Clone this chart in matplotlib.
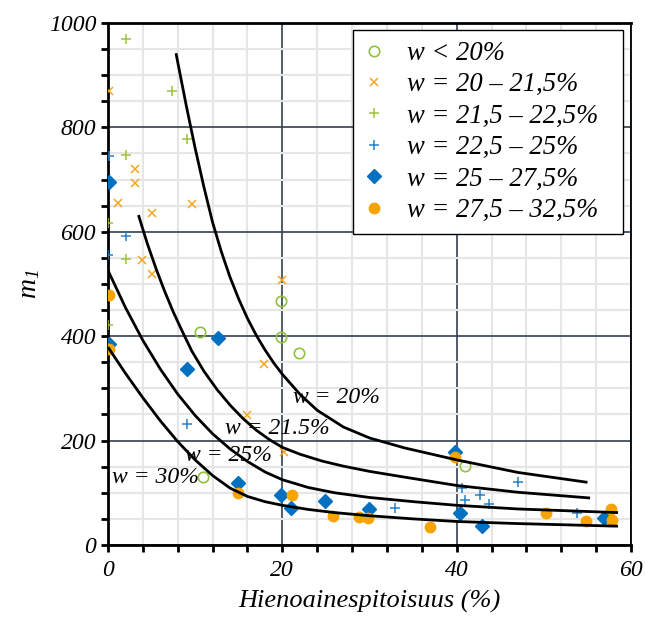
import numpy as np
import matplotlib
matplotlib.use("Agg")
import matplotlib.pyplot as plt
from matplotlib.ticker import MultipleLocator

plt.rcParams['font.family'] = ['Liberation Serif', 'DejaVu Serif']
plt.rcParams['font.style'] = 'italic'
plt.rcParams['mathtext.fontset'] = 'custom'
plt.rcParams['mathtext.it'] = 'Liberation Serif:italic'
plt.rcParams['mathtext.rm'] = 'Liberation Serif:italic'

# measured points, grouped by water content class
w_lt20_x = [10.5, 19.9, 19.9, 21.9, 10.9, 40.9]
w_lt20_y = [408, 467, 398, 367, 131, 151]

w_20_215_x = [0.1, 1.2, 3.1, 3.1, 5.1, 3.95, 5.0, 9.65, 20.0, 17.9, 16.0, 20.2]
w_20_215_y = [869, 656, 720, 694, 635, 546, 519, 654, 508, 347, 249, 178]

w_215_225_x = [2.1, 7.4, 9.1, 2.1, 0.05, 2.1, 0.05]
w_215_225_y = [969, 869, 778, 747, 617, 547, 421]

w_225_25_x = [0.1, 2.1, 0.05, 9.1, 32.9, 40.6, 41.0, 42.7, 43.7, 47.0, 53.8]
w_225_25_y = [745, 591, 556, 231, 70, 110, 86, 96, 78, 120, 61]

w_25_275_x = [0.1, 0.1, 12.6, 9.05, 14.95, 19.8, 20.95, 24.95, 29.95, 39.85, 40.4, 42.9, 56.85]
w_25_275_y = [695, 385, 397, 338, 118, 95, 70, 85, 69, 179, 62, 36, 52]

w_275_325_x = [0.1, 0.1, 14.95, 21.1, 25.8, 28.8, 29.85, 36.9, 39.85, 50.2, 54.8, 57.65, 57.8]
w_275_325_y = [478, 375, 99, 95, 56, 54, 51, 35, 168, 62, 46, 68, 48]

# model curves
c20_x = [7.8, 9, 10, 11, 12, 13, 14, 15, 16, 17, 18, 19, 20, 22, 24, 27, 30, 34, 40, 47, 55]
c20_y = [942, 840, 760, 686, 618, 562, 513, 471, 434, 402, 374, 349, 327, 289, 258, 226, 205, 186, 163, 139, 120]

c215_x = [3.5, 4.5, 5.5, 6.5, 7.5, 8.5, 9.6, 11, 12.5, 14, 15.5, 17, 18.5, 20, 22, 24.5, 27, 30, 34, 40, 47, 55.3]
c215_y = [632, 578, 530, 486, 446, 410, 372, 333, 298, 268, 242, 220, 202, 187, 174, 161, 151, 141, 130, 114, 101, 90]

c25_x = [0, 2, 4, 6, 8, 10, 12, 14, 16, 18, 20, 23, 26, 30, 35, 40, 47, 58.5]
c25_y = [526, 455, 392, 337, 289, 248, 213, 184, 160, 140, 125, 110, 100, 91, 83, 76, 69, 62]

c30_x = [0, 2, 4, 6, 8, 10, 12, 14, 16, 18, 20, 23, 26, 30, 35, 40, 47, 58.5]
c30_y = [379, 329, 282, 238, 198, 163, 133, 109, 93, 83, 76, 68, 62, 56, 50, 45, 41, 36]

curve_labels = ['w = 20%', 'w = 21.5%', 'w = 25%', 'w = 30%']
label_x = [21.2, 13.4, 8.8, 0.45]
label_y = [283, 224, 172, 130]

fig = plt.figure(figsize=(6.45, 6.2), dpi=100)
ax = fig.add_axes([0.1674, 0.121, 0.811, 0.842])

ax.set_xlim(0, 60)
ax.set_ylim(0, 1000)
ax.xaxis.set_major_locator(MultipleLocator(20))
ax.xaxis.set_minor_locator(MultipleLocator(4))
ax.yaxis.set_major_locator(MultipleLocator(200))
ax.yaxis.set_minor_locator(MultipleLocator(50))

ax.grid(which='minor', color='#e6e6e6', lw=1.5, zorder=0)
ax.grid(which='major', color='#34404f', lw=1.2, zorder=1)
ax.set_axisbelow(True)

for s in ax.spines.values():
    s.set_color('black')
    s.set_linewidth(2)
ax.spines['right'].set_linewidth(1.3)

ax.tick_params(which='both', direction='out', length=5, width=2, colors='black', labelsize=17)
ax.tick_params(axis='x', which='major', pad=6)

ax.plot(w_lt20_x, w_lt20_y, 'o', ls='none', ms=7.5, mfc='none', mec='#8fc241', mew=1.2, label='w < 20%', zorder=3)
ax.plot(w_20_215_x, w_20_215_y, 'x', ls='none', ms=5.5, color='#f5a623', mew=1.1, label='w = 20 – 21,5%', zorder=3)
ax.plot(w_215_225_x, w_215_225_y, '+', ls='none', ms=7.5, color='#9cc43e', mew=1.1, label='w = 21,5 – 22,5%', zorder=3)
ax.plot(w_225_25_x, w_225_25_y, '+', ls='none', ms=7.5, color='#2a80c4', mew=1.1, label='w = 22,5 – 25%', zorder=3)
ax.plot(w_25_275_x, w_25_275_y, 'D', ls='none', ms=7, color='#0070c0', label='w = 25 – 27,5%', zorder=3)
ax.plot(w_275_325_x, w_275_325_y, 'o', ls='none', ms=7.5, color='#f7a400', label='w = 27,5 – 32,5%', zorder=3)

for cx, cy in [(c20_x, c20_y), (c215_x, c215_y), (c25_x, c25_y), (c30_x, c30_y)]:
    ax.plot(cx, cy, color='black', lw=2, zorder=4, solid_capstyle='butt', solid_joinstyle='round')

for t, tx, ty in zip(curve_labels, label_x, label_y):
    ax.text(tx, ty, t, fontsize=17, ha='left', va='center', zorder=5)

leg = ax.legend(loc='upper left', bbox_to_anchor=(0.468, 0.5, 0.516, 0.486), mode='expand',
                borderaxespad=0, fontsize=19.2, fancybox=False, framealpha=1, edgecolor='black',
                handletextpad=0.83, labelspacing=0.24, borderpad=0.4, handlelength=0.82)
leg.get_frame().set_linewidth(1)

ax.set_xlabel('Hienoainespitoisuus (%)', fontsize=19, labelpad=6)
ax.set_ylabel(r'$m_1$', fontsize=20, labelpad=5)

fig.savefig('out.png', dpi=100)
